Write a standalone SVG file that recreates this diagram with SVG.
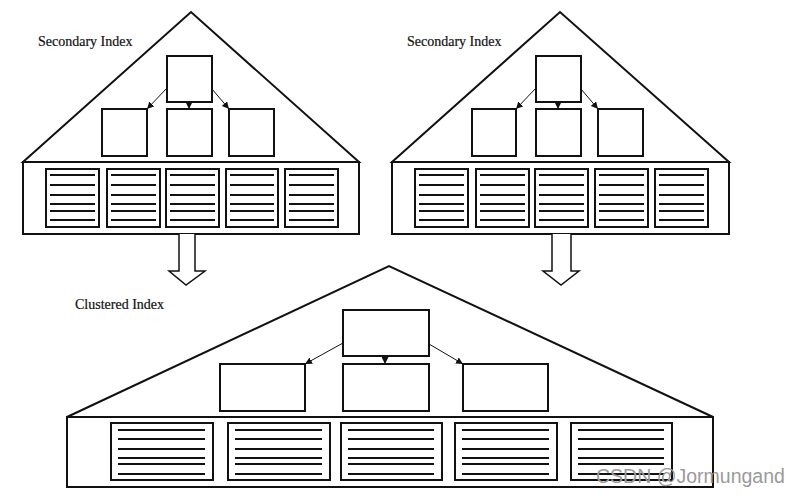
<svg xmlns="http://www.w3.org/2000/svg" width="798" height="496" viewBox="0 0 798 496">
<defs>
<style>
.outline{fill:none;stroke:#111;stroke-width:2;stroke-linejoin:miter}
.box{fill:#fff;stroke:#111;stroke-width:2}
.cell{fill:#fff;stroke:#111;stroke-width:2}
.rows{fill:none;stroke:#111;stroke-width:1.8}
.conn{fill:none;stroke:#111;stroke-width:1}
.fat{fill:#fff;stroke:#111;stroke-width:1.5;stroke-linejoin:miter}
.lbl{font-family:"Liberation Serif","Times New Roman",serif;font-size:14px;fill:#111;stroke:#111;stroke-width:0.2}
.wm{font-family:"Liberation Sans",Arial,sans-serif;font-size:19.5px;fill:#9a9a9a}
</style>
<marker id="ah" viewBox="0 0 8 8" refX="8" refY="4" markerWidth="7" markerHeight="7" markerUnits="userSpaceOnUse" orient="auto">
<path d="M0,0 L8,4 L0,8 Z" fill="#111"/>
</marker>
</defs>
<rect width="798" height="496" fill="#fff"/>

<!-- Left secondary index -->
<g id="secondary-left">
<path class="outline" d="M23,162 L191,12 L359,162 Z"/>
<rect class="outline" x="23" y="162" width="336" height="72"/>
<text class="lbl" x="38" y="46">Secondary Index</text>
<g id="sl-root"><rect class="box" x="167" y="56" width="45" height="46"/></g>
<g id="sl-c1"><rect class="box" x="102" y="109" width="45" height="47"/></g>
<g id="sl-c2"><rect class="box" x="167" y="109" width="45" height="47"/></g>
<g id="sl-c3"><rect class="box" x="229" y="109" width="45" height="47"/></g>
<g id="sl-p1"><rect class="cell" x="46" y="169" width="53" height="58"/><path class="rows" d="M50,175H95M50,185H95M50,195H95M50,204H95M50,211H95M50,220H95"/></g>
<g id="sl-p2"><rect class="cell" x="107" y="169" width="53" height="58"/><path class="rows" d="M111,175H156M111,185H156M111,195H156M111,204H156M111,211H156M111,220H156"/></g>
<g id="sl-p3"><rect class="cell" x="166" y="169" width="53" height="58"/><path class="rows" d="M170,175H215M170,185H215M170,195H215M170,204H215M170,211H215M170,220H215"/></g>
<g id="sl-p4"><rect class="cell" x="226" y="169" width="52" height="58"/><path class="rows" d="M230,175H274M230,185H274M230,195H274M230,204H274M230,211H274M230,220H274"/></g>
<g id="sl-p5"><rect class="cell" x="285" y="169" width="53" height="58"/><path class="rows" d="M289,175H334M289,185H334M289,195H334M289,204H334M289,211H334M289,220H334"/></g>
</g>

<!-- Right secondary index -->
<g id="secondary-right">
<path class="outline" d="M392,162 L560,12 L729,162 Z"/>
<rect class="outline" x="392" y="162" width="337" height="72"/>
<text class="lbl" x="407" y="46">Secondary Index</text>
<g id="sr-root"><rect class="box" x="536" y="56" width="45" height="46"/></g>
<g id="sr-c1"><rect class="box" x="472" y="109" width="44" height="47"/></g>
<g id="sr-c2"><rect class="box" x="536" y="109" width="45" height="47"/></g>
<g id="sr-c3"><rect class="box" x="598" y="109" width="45" height="47"/></g>
<g id="sr-p1"><rect class="cell" x="415" y="169" width="53" height="58"/><path class="rows" d="M419,175H464M419,185H464M419,195H464M419,204H464M419,211H464M419,220H464"/></g>
<g id="sr-p2"><rect class="cell" x="476" y="169" width="53" height="58"/><path class="rows" d="M480,175H525M480,185H525M480,195H525M480,204H525M480,211H525M480,220H525"/></g>
<g id="sr-p3"><rect class="cell" x="535" y="169" width="53" height="58"/><path class="rows" d="M539,175H584M539,185H584M539,195H584M539,204H584M539,211H584M539,220H584"/></g>
<g id="sr-p4"><rect class="cell" x="595" y="169" width="53" height="58"/><path class="rows" d="M599,175H644M599,185H644M599,195H644M599,204H644M599,211H644M599,220H644"/></g>
<g id="sr-p5"><rect class="cell" x="655" y="169" width="53" height="58"/><path class="rows" d="M659,175H704M659,185H704M659,195H704M659,204H704M659,211H704M659,220H704"/></g>
</g>

<!-- Clustered index -->
<g id="clustered">
<path class="outline" d="M67,417 L389,266 L713,417 Z"/>
<rect class="outline" x="67" y="417" width="646" height="70"/>
<text class="lbl" x="75" y="309">Clustered Index</text>
<g id="cl-root"><rect class="box" x="343" y="310" width="86" height="46"/></g>
<g id="cl-c1"><rect class="box" x="220" y="364" width="85" height="47"/></g>
<g id="cl-c2"><rect class="box" x="343" y="364" width="86" height="47"/></g>
<g id="cl-c3"><rect class="box" x="463" y="364" width="85" height="47"/></g>
<g id="cl-p1"><rect class="cell" x="111" y="423" width="102" height="57"/><path class="rows" d="M118,430H205M118,439H205M118,449H205M118,458H205M118,464H205M118,474H205"/></g>
<g id="cl-p2"><rect class="cell" x="228" y="423" width="102" height="57"/><path class="rows" d="M235,430H322M235,439H322M235,449H322M235,458H322M235,464H322M235,474H322"/></g>
<g id="cl-p3"><rect class="cell" x="341" y="423" width="101" height="57"/><path class="rows" d="M348,430H434M348,439H434M348,449H434M348,458H434M348,464H434M348,474H434"/></g>
<g id="cl-p4"><rect class="cell" x="455" y="423" width="102" height="57"/><path class="rows" d="M462,430H549M462,439H549M462,449H549M462,458H549M462,464H549M462,474H549"/></g>
<g id="cl-p5"><rect class="cell" x="571" y="423" width="101" height="57"/><path class="rows" d="M578,430H664M578,439H664M578,449H664M578,458H664M578,464H664M578,474H664"/></g>
</g>

<!-- Connectors -->
<g id="connectors">
<path class="conn" marker-end="url(#ah)" d="M167,88 L147,109"/>
<path class="conn" marker-end="url(#ah)" d="M189,102 L189,109"/>
<path class="conn" marker-end="url(#ah)" d="M212,89 L229,109"/>
<path class="conn" marker-end="url(#ah)" d="M536,88 L516,109"/>
<path class="conn" marker-end="url(#ah)" d="M558,102 L558,109"/>
<path class="conn" marker-end="url(#ah)" d="M581,89 L598,109"/>
<path class="conn" marker-end="url(#ah)" d="M343,343 L305,364"/>
<path class="conn" marker-end="url(#ah)" d="M385,356 L385,364"/>
<path class="conn" marker-end="url(#ah)" d="M429,344 L463,364"/>
<path class="fat" d="M179,234 L179,271 L169,271 L186,285 L205,271 L195,271 L195,234"/>
<path class="fat" d="M552,234 L552,271 L543,271 L561,285 L579,271 L571,271 L571,234"/>
</g>

<text class="wm" x="596" y="483">CSDN @Jormungand</text>
</svg>
